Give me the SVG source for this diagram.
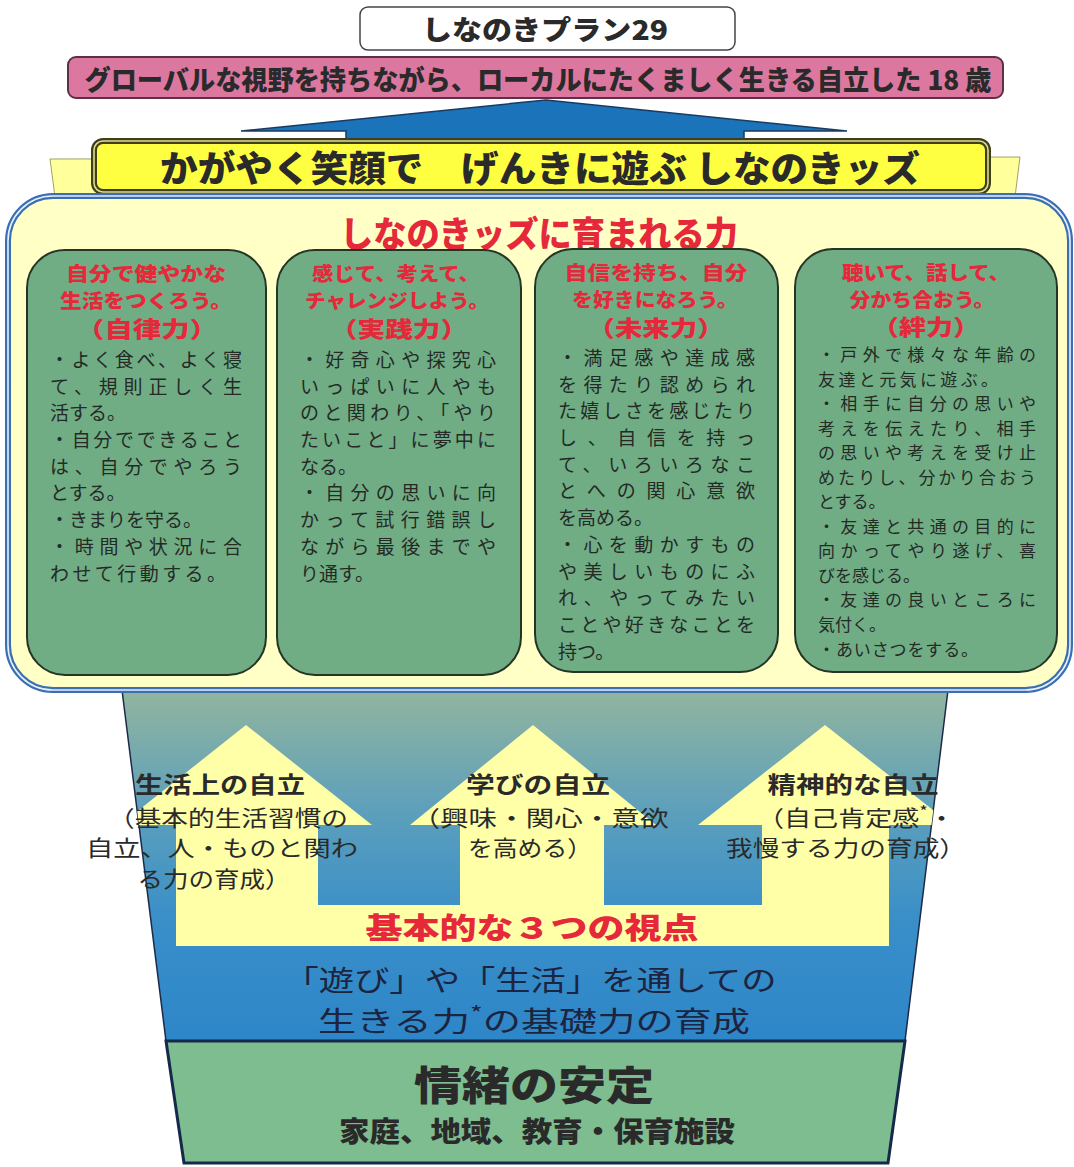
<svg xmlns="http://www.w3.org/2000/svg" width="1074" height="1167" viewBox="0 0 1074 1167">
<defs>
<style>
text{font-family:"Noto Sans CJK JP","Noto Sans",sans-serif;dominant-baseline:central}
.ttl{font-weight:900;fill:#2a2a2a}
.red{font-weight:900;fill:#e5283a}
.hd{font-weight:900;fill:#e5283a;font-size:19px;text-anchor:middle}
.hd2{font-weight:900;fill:#e5283a;font-size:22px;text-anchor:middle}
.bd{font-size:19px;fill:#252a25}
.bd4{font-size:17px;fill:#252a25}
.col{fill:#70ad85;stroke:#253525;stroke-width:2}
.lbl{font-size:22px;fill:#2a2a2a;text-anchor:middle}
.lblb{font-size:23px;font-weight:700;fill:#2a2a2a;text-anchor:middle}
.nv{font-size:28px;fill:#1c2440;text-anchor:middle}
</style>
<linearGradient id="fg" x1="0" y1="690" x2="0" y2="1041" gradientUnits="userSpaceOnUse">
<stop offset="0" stop-color="#92b59e"/>
<stop offset="0.35" stop-color="#5c9fbc"/>
<stop offset="0.65" stop-color="#3a8fc8"/>
<stop offset="1" stop-color="#2d86c8"/>
</linearGradient>
<clipPath id="fc"><polygon points="122,690 948,690 905,1041 166,1041"/></clipPath>
</defs>

<!-- funnel and base -->
<g id="funnel">
<polygon points="122,690 948,690 905,1041 166,1041" fill="url(#fg)" stroke="#1c2a48" stroke-width="1.5"/>
</g>

<g id="arrows3" clip-path="url(#fc)">
<path d="M176,946 L176,825 L120,825 L246,725 L372,825 L318,825 L318,905 L460,905 L460,825 L410,825 L533,725 L656,825 L604,825 L604,905 L762,905 L762,825 L698,825 L825,725 L952,825 L889,825 L889,946 Z" fill="#ffffa8"/>
</g>

<g id="base">
<polygon points="166,1041 905,1041 888,1163 184,1163" fill="#7dbd8f" stroke="#15294a" stroke-width="3"/>
<text x="534" y="1083" text-anchor="middle" font-size="40" class="ttl" textLength="240" lengthAdjust="spacingAndGlyphs">情緒の安定</text>
<text x="537" y="1130" text-anchor="middle" font-size="28" class="ttl" textLength="396" lengthAdjust="spacingAndGlyphs">家庭、地域、教育・保育施設</text>
</g>

<g id="labels">
<text class="lblb" x="220" y="783" textLength="170" lengthAdjust="spacingAndGlyphs">生活上の自立</text>
<text class="lbl" x="228" y="816" textLength="240" lengthAdjust="spacingAndGlyphs">（基本的生活習慣の</text>
<text class="lbl" x="222" y="846" textLength="272" lengthAdjust="spacingAndGlyphs">自立、人・ものと関わ</text>
<text class="lbl" x="214" y="877" textLength="153" lengthAdjust="spacingAndGlyphs">る力の育成）</text>
<text class="lblb" x="538" y="783" textLength="144" lengthAdjust="spacingAndGlyphs">学びの自立</text>
<text class="lbl" x="540" y="816" textLength="257" lengthAdjust="spacingAndGlyphs">（興味・関心・意欲</text>
<text class="lbl" x="530" y="846" textLength="124" lengthAdjust="spacingAndGlyphs">を高める）</text>
<text class="lblb" x="853" y="783" textLength="171" lengthAdjust="spacingAndGlyphs">精神的な自立</text>
<text class="lbl" x="856" y="816" textLength="198" lengthAdjust="spacingAndGlyphs">（自己肯定感<tspan font-size="15" dy="-6">*</tspan><tspan dy="6">・</tspan></text>
<text class="lbl" x="846" y="846" textLength="240" lengthAdjust="spacingAndGlyphs">我慢する力の育成）</text>
<text class="red" x="532" y="926" font-size="29" text-anchor="middle" textLength="333" lengthAdjust="spacingAndGlyphs">基本的な３つの視点</text>
<text class="nv" x="530" y="979" textLength="493" lengthAdjust="spacingAndGlyphs">「遊び」や「生活」を通しての</text>
<text class="nv" x="534" y="1020" textLength="432" lengthAdjust="spacingAndGlyphs">生きる力<tspan font-size="20" dy="-8">*</tspan><tspan dy="8">の基礎力の育成</tspan></text>
</g>

<!-- top -->
<g id="plan">
<rect x="360" y="7" width="375" height="43" rx="8" fill="#ffffff" stroke="#444" stroke-width="1.5"/>
<text x="545" y="28" text-anchor="middle" font-size="27" class="ttl" textLength="246" lengthAdjust="spacingAndGlyphs">しなのきプラン29</text>
</g>
<g id="goal">
<rect x="68" y="57" width="935" height="41" rx="8" fill="#dc78a0" stroke="#5e3048" stroke-width="2"/>
<text x="538" y="78" text-anchor="middle" font-size="27" class="ttl" textLength="907" lengthAdjust="spacingAndGlyphs">グローバルな視野を持ちながら、ローカルにたくましく生きる自立した 18 歳</text>
</g>

<g id="connectors">
<path d="M546,100 L847,131 L744,131 L744,142 L346,142 L346,131 L241,131 Z" fill="#1b74ba" stroke="#1a3a62" stroke-width="1.5"/>
</g>

<g id="banner">
<polygon points="50,159 1020,157 1015,197 55,197" fill="#ffff9c" stroke="#8a8a40" stroke-width="0.8"/>
<rect x="94" y="141" width="894" height="51" rx="9" fill="#ffff42" stroke="#3f3f1a" stroke-width="6"/>
<rect x="94" y="141" width="894" height="51" rx="9" fill="none" stroke="#dede90" stroke-width="1.6"/>
<text x="540" y="166" text-anchor="middle" font-size="36" class="ttl" textLength="760" lengthAdjust="spacingAndGlyphs">かがやく笑顔で　げんきに遊ぶ しなのきッズ</text>
</g>

<g id="container">
<rect x="8" y="196" width="1062" height="494" rx="45" fill="#ffffc6" stroke="#3a6fb2" stroke-width="6"/>
<rect x="8" y="196" width="1062" height="494" rx="45" fill="none" stroke="#e6f0ff" stroke-width="1.6"/>
<text class="red" x="539" y="231" font-size="35" text-anchor="middle" textLength="398" lengthAdjust="spacingAndGlyphs">しなのきッズに育まれる力</text>
</g>

<g id="col1">
<rect class="col" x="27" y="250" width="239" height="425" rx="38"/>
<text class="hd" x="146" y="272" textLength="160" lengthAdjust="spacingAndGlyphs">自分で健やかな</text>
<text class="hd" x="146" y="299" textLength="172" lengthAdjust="spacingAndGlyphs">生活をつくろう。</text>
<text class="hd2" x="147" y="327" textLength="142" lengthAdjust="spacingAndGlyphs">（自律力）</text>
<text class="bd" x="50" y="358" textLength="192">・よく食べ、よく寝</text>
<text class="bd" x="50" y="385" textLength="192">て、規則正しく生</text>
<text class="bd" x="50" y="411">活する。</text>
<text class="bd" x="50" y="438" textLength="192">・自分でできること</text>
<text class="bd" x="50" y="465" textLength="192">は、自分でやろう</text>
<text class="bd" x="50" y="491">とする。</text>
<text class="bd" x="50" y="518">・きまりを守る。</text>
<text class="bd" x="50" y="545" textLength="192">・時間や状況に合</text>
<text class="bd" x="50" y="572" textLength="176">わせて行動する。</text>
</g>

<g id="col2">
<rect class="col" x="277" y="250" width="244" height="425" rx="38"/>
<text class="hd" x="396" y="272" textLength="168" lengthAdjust="spacingAndGlyphs">感じて、考えて、</text>
<text class="hd" x="397" y="299" textLength="184" lengthAdjust="spacingAndGlyphs">チャレンジしよう。</text>
<text class="hd2" x="399" y="327" textLength="138" lengthAdjust="spacingAndGlyphs">（実践力）</text>
<text class="bd" x="300" y="358" textLength="196">・好奇心や探究心</text>
<text class="bd" x="300" y="385" textLength="196">いっぱいに人やも</text>
<text class="bd" x="300" y="411" textLength="196">のと関わり、「やり</text>
<text class="bd" x="300" y="438" textLength="196">たいこと」に夢中に</text>
<text class="bd" x="300" y="465">なる。</text>
<text class="bd" x="300" y="491" textLength="196">・自分の思いに向</text>
<text class="bd" x="300" y="518" textLength="196">かって試行錯誤し</text>
<text class="bd" x="300" y="545" textLength="196">ながら最後までや</text>
<text class="bd" x="300" y="572">り通す。</text>
</g>

<g id="col3">
<rect class="col" x="535" y="249" width="243" height="423" rx="38"/>
<text class="hd" x="656" y="271" textLength="183" lengthAdjust="spacingAndGlyphs">自信を持ち、自分</text>
<text class="hd" x="655" y="298" textLength="166" lengthAdjust="spacingAndGlyphs">を好きになろう。</text>
<text class="hd2" x="656" y="326" textLength="137" lengthAdjust="spacingAndGlyphs">（未来力）</text>
<text class="bd" x="558" y="356" textLength="197">・満足感や達成感</text>
<text class="bd" x="558" y="383" textLength="197">を得たり認められ</text>
<text class="bd" x="558" y="409" textLength="197">た嬉しさを感じたり</text>
<text class="bd" x="558" y="436" textLength="197">し、自信を持っ</text>
<text class="bd" x="558" y="463" textLength="197">て、いろいろなこ</text>
<text class="bd" x="558" y="489" textLength="197">とへの関心意欲</text>
<text class="bd" x="558" y="516">を高める。</text>
<text class="bd" x="558" y="543" textLength="197">・心を動かすもの</text>
<text class="bd" x="558" y="570" textLength="197">や美しいものにふ</text>
<text class="bd" x="558" y="596" textLength="197">れ、やってみたい</text>
<text class="bd" x="558" y="623" textLength="197">ことや好きなことを</text>
<text class="bd" x="558" y="650">持つ。</text>
</g>

<g id="col4">
<rect class="col" x="795" y="249" width="262" height="423" rx="38"/>
<text class="hd" x="926" y="271" textLength="168" lengthAdjust="spacingAndGlyphs">聴いて、話して、</text>
<text class="hd" x="922" y="298" textLength="145" lengthAdjust="spacingAndGlyphs">分かち合おう。</text>
<text class="hd2" x="926" y="325" textLength="108" lengthAdjust="spacingAndGlyphs">（絆力）</text>
<text class="bd4" x="818" y="353" textLength="218">・戸外で様々な年齢の</text>
<text class="bd4" x="818" y="378" textLength="180">友達と元気に遊ぶ。</text>
<text class="bd4" x="818" y="402" textLength="218">・相手に自分の思いや</text>
<text class="bd4" x="818" y="427" textLength="218">考えを伝えたり、相手</text>
<text class="bd4" x="818" y="451" textLength="218">の思いや考えを受け止</text>
<text class="bd4" x="818" y="476" textLength="218">めたりし、分かり合おう</text>
<text class="bd4" x="818" y="500">とする。</text>
<text class="bd4" x="818" y="525" textLength="218">・友達と共通の目的に</text>
<text class="bd4" x="818" y="549" textLength="218">向かってやり遂げ、喜</text>
<text class="bd4" x="818" y="574">びを感じる。</text>
<text class="bd4" x="818" y="598" textLength="218">・友達の良いところに</text>
<text class="bd4" x="818" y="623">気付く。</text>
<text class="bd4" x="818" y="648" textLength="160">・あいさつをする。</text>
</g>
</svg>
